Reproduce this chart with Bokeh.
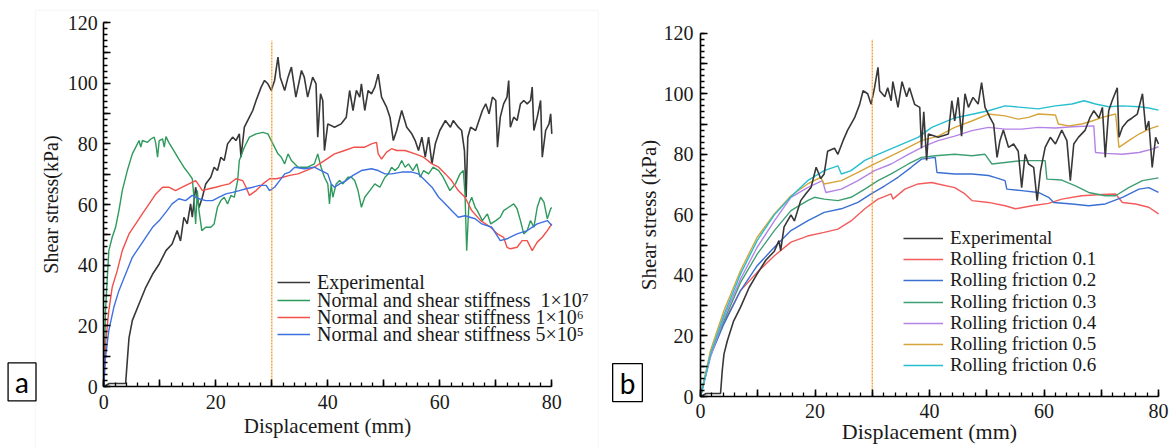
from bokeh.plotting import figure
from bokeh.layouts import row
from bokeh.models import (Range1d, SingleIntervalTicker, Legend, LegendItem,
                          Label, BoxAnnotation)
from bokeh.embed import file_html
from bokeh.resources import INLINE

# ---------------- data: panel a ----------------
exp_a_x = [0, 1.0, 1.5, 3.9, 4.2, 4.5, 5.1, 6.3, 7.5, 8.7,
           9.9, 11.1, 12.2, 13.1, 13.7, 14.3, 14.9, 15.5, 15.8, 16.4,
           17.0, 17.6, 18.2, 19.1, 19.7, 20.3, 20.9, 21.5, 22.1, 23.0,
           23.6, 24.2, 24.5, 25.1, 26.0, 26.6, 27.2, 28.1, 28.7, 29.3,
           29.9, 30.5, 31.1, 31.5, 32.3, 32.9, 33.5, 34.3, 35.3, 35.8,
           36.4, 37.3, 37.9, 38.2, 38.7, 39.1, 39.4, 40.0, 41.2, 42.4,
           43.3, 43.9, 44.5, 45.1, 45.7, 46.0, 46.6, 47.2, 47.8, 48.4,
           49.0, 49.6, 50.5, 51.1, 51.7, 52.3, 53.2, 54.1, 55.0, 55.6,
           56.2, 56.8, 57.4, 58.0, 58.6, 59.2, 60.0, 61.0, 61.9, 62.4,
           63.3, 63.9, 64.4, 64.7, 65.0, 65.5, 66.4, 67.0, 67.6, 68.2,
           68.8, 69.4, 70.0, 70.3, 70.8, 71.4, 72.0, 72.3, 72.6, 73.2,
           73.8, 74.4, 75.0, 75.6, 76.2, 76.5, 76.8, 77.4, 78.0, 78.3,
           78.9, 79.5, 79.8, 80.0]
exp_a_y = [0, 1, 1, 1, 8.6, 16, 21.8, 27.3, 32.7, 37,
           40.4, 44.8, 47, 51.4, 48, 55.8, 53.6, 60.2, 55.8, 65.7,
           59, 62.4, 66.8, 69, 72.3, 71.2, 75.6, 74.5, 80, 82.2,
           81.1, 83.3, 75.6, 85.5, 88.8, 91, 94.3, 98.7, 100.9, 99.8,
           97.6, 100.9, 108.6, 102, 97.6, 102, 105.3, 95.4, 104.2, 102,
           95.4, 102, 99.8, 82.2, 96.5, 94.3, 77.8, 86.6, 85.5, 86.6,
           88.8, 97.6, 91, 97.6, 95.4, 99.8, 91, 97.6, 96.5, 98.7,
           103, 95.4, 92.1, 88.8, 81.1, 84.4, 91, 85.5, 83.3, 81.1,
           77.8, 82.2, 75.6, 82.2, 73.4, 80, 84.4, 87.7, 85.5, 87.7,
           85.5, 84.4, 77.8, 62.4, 82.2, 85.5, 84.4, 87.7, 91, 93.2,
           89.9, 95.4, 94.3, 78.9, 88.8, 93.2, 95.4, 100.9, 85.5, 88.8,
           87.7, 93.2, 94.3, 93.2, 94.3, 98.7, 84.4, 88.8, 94.3, 75.6,
           84.4, 86.6, 89.9, 83.3]

k7_x = [0, 0.3, 0.9, 1.5, 2.1, 2.7, 3.3, 4.2, 5.1, 6.0,
        6.3, 6.6, 6.9, 7.8, 8.4, 9.0, 9.3, 9.6, 9.9, 10.5,
        10.8, 11.1, 11.6, 12.5, 13.4, 14.3, 15.2, 15.8, 16.1, 16.4,
        16.7, 17.0, 17.5, 18.2, 19.1, 19.7, 20.3, 20.9, 21.5, 22.1,
        22.7, 23.3, 23.9, 24.2, 25.1, 26.0, 27.2, 28.4, 29.3, 30.2,
        31.1, 31.7, 32.3, 32.9, 33.5, 34.7, 36.4, 37.6, 38.2, 38.8,
        39.4, 40.0, 40.3, 40.6, 40.9, 41.5, 42.1, 42.7, 43.6, 44.2,
        44.8, 45.4, 46.0, 46.6, 47.5, 48.4, 49.3, 50.2, 50.8, 51.4,
        52.0, 52.6, 53.2, 53.8, 54.4, 55.2, 55.9, 56.5, 57.1, 58.0,
        58.8, 59.8, 60.6, 61.2, 61.8, 62.8, 63.6, 64.2, 64.5, 64.8,
        65.2, 65.7, 66.3, 66.7, 67.6, 68.5, 69.1, 70.0, 70.8, 71.4,
        72.3, 73.2, 73.8, 74.4, 75.0, 75.6, 76.2, 76.8, 77.4, 78.0,
        78.6, 79.2, 79.8, 80.0]
k7_y = [0, 25, 44.8, 49.2, 52.5, 58, 64.6, 71.2, 76.7, 80,
        81.1, 78.9, 81.1, 80.5, 81.6, 82.2, 80, 75.6, 81.1, 81.6,
        78.9, 82.4, 80.5, 77.8, 75, 72.3, 70.1, 68.5, 62.4, 53.6,
        64.6, 58, 51.4, 52.5, 52.5, 53.6, 59.1, 61.3, 62.4, 60.2,
        63, 62.4, 67.9, 74.5, 78.9, 82.2, 83.3, 83.8, 83.3, 80,
        76.7, 75.6, 73.4, 76.7, 74.5, 72.3, 72.3, 73.4, 76.7, 72.3,
        69, 66.8, 60.2, 66.8, 62.4, 66.8, 67.9, 66.8, 69, 69,
        67.9, 64.6, 59.1, 62.4, 64.6, 66.8, 65.7, 69, 70.1, 72.3,
        71.2, 72.3, 74.5, 72.3, 73.4, 71.2, 73.4, 69, 71.2, 70.1,
        72.3, 71.2, 69, 66.8, 64.6, 66.8, 70.1, 71.2, 63.5, 44.8,
        60.2, 62.4, 59.1, 58, 54.7, 56.9, 53.6, 54.7, 55.8, 58,
        59.1, 60.2, 58.6, 54.7, 50.3, 51.4, 54.7, 52.5, 59.1, 62.4,
        60.8, 55.3, 58.6, 59]

k6_x = [0, 0.3, 0.9, 1.5, 2.4, 3.3, 4.5, 5.7, 6.9, 8.1,
        9.3, 10.5, 11.6, 12.8, 14.0, 15.2, 16.4, 17.0, 17.6, 18.8,
        20.0, 21.2, 22.4, 23.6, 24.8, 25.4, 26.0, 27.2, 28.4, 29.6,
        30.8, 32.0, 33.2, 34.7, 37.6, 39.4, 41.2, 43.0, 44.7, 46.6,
        47.8, 48.7, 49.0, 49.6, 50.5, 51.4, 52.3, 53.8, 55.6, 57.1,
        58.6, 59.8, 61.0, 62.1, 63.3, 64.5, 65.7, 67.3, 69.1, 70.3,
        71.4, 72.0, 72.6, 73.8, 74.7, 75.6, 76.5, 77.4, 78.3, 79.2,
        80.0]
k6_y = [0, 14, 25, 32.7, 38.2, 44.8, 50.3, 53.6, 57, 60.2,
        63.5, 65.7, 65.7, 64.6, 65.7, 66.8, 67.9, 66.3, 64.6, 65.2,
        65.7, 66.3, 66.8, 68.5, 67.9, 65.7, 63, 64.6, 66.8, 68.5,
        68.5, 69, 69.6, 70.1, 72.3, 74.5, 76.7, 77.8, 78.9, 78.9,
        80, 80.5, 76.7, 75, 77.3, 78.4, 77.8, 77.8, 76.7, 75.6,
        73.4, 72.3, 70.1, 67.9, 64.6, 62.4, 58, 54.7, 52.5, 50.3,
        49.2, 45.9, 45.4, 45.9, 48.1, 48.1, 44.8, 47.6, 49.2, 51.4,
        53.6]

k5_x = [0, 0.3, 0.9, 1.8, 2.7, 3.9, 5.1, 6.3, 7.5, 8.7,
        9.9, 11.1, 12.2, 13.4, 14.6, 15.8, 17.0, 18.2, 19.4, 20.6,
        21.8, 23.0, 24.2, 25.4, 26.6, 27.8, 29.0, 29.6, 30.5, 31.4,
        32.3, 33.2, 34.1, 35.8, 37.6, 38.8, 40.0, 40.6, 41.2, 42.1,
        43.3, 44.5, 46.0, 47.8, 49.0, 50.2, 51.4, 53.2, 55.0, 56.2,
        57.4, 58.6, 59.8, 61.0, 62.1, 63.3, 64.5, 66.3, 67.5, 69.3,
        70.8, 72.0, 73.8, 75.6, 77.4, 79.2, 80.0]
k5_y = [0, 9.7, 18.5, 26.2, 31.6, 37.1, 42.6, 45.9, 49.2, 52.5,
        54.7, 57.5, 60.2, 61.9, 61.3, 63, 61.9, 61.3, 61.3, 62.4,
        63.5, 64, 64.6, 65.2, 65.7, 66.3, 66.3, 64.6, 65.7, 67.9,
        70.1, 70.7, 72.3, 71.8, 72.3, 71.2, 70.1, 66.8, 65.7, 66.8,
        67.9, 69.6, 71.2, 71.8, 71.2, 70.1, 70.1, 70.7, 70.7, 70.1,
        67.9, 65.7, 62.4, 60.2, 58, 55.8, 56.3, 55.3, 53.6, 52.5,
        48.1, 48.7, 50.3, 51.4, 53.6, 54.7, 53.1]

# ---------------- data: panel b ----------------
exp_b_x = [0, 1.0, 3.5, 3.8, 4.1, 4.7, 5.8, 7.0, 8.5, 9.9,
           11.4, 12.9, 13.7, 14.0, 14.6, 15.8, 16.4, 17.5, 18.4, 19.3,
           20.2, 21.0, 21.6, 22.2, 23.4, 24.0, 24.9, 25.7, 26.9, 27.8,
           28.4, 29.2, 29.8, 30.4, 31.0, 31.3, 32.2, 32.7, 33.3, 33.6,
           34.5, 35.2, 36.0, 36.5, 37.4, 38.3, 38.6, 39.0, 39.5, 39.8,
           41.5, 43.3, 43.9, 44.4, 45.0, 45.6, 46.2, 46.8, 47.6, 48.5,
           49.1, 49.7, 50.6, 51.2, 51.8, 52.3, 52.9, 53.8, 54.7, 55.5,
           56.1, 56.7, 57.3, 58.2, 58.8, 59.4, 60.2, 61.1, 62.0, 63.1,
           64.0, 64.6, 65.2, 66.0, 67.2, 68.0, 68.7, 69.6, 70.2, 70.7,
           71.3, 71.9, 72.8, 73.1, 73.7, 74.6, 75.4, 76.3, 77.2, 77.8,
           78.3, 78.9, 79.5, 80.0]
exp_b_y = [0, 1, 1, 8.6, 14, 18.5, 25, 29.5, 36, 40.5,
           45, 48, 51.5, 48.2, 56, 60, 58, 64.7, 67, 69,
           75.7, 72, 73.5, 81, 82, 80, 84.5, 88, 92, 96.5,
           101, 100, 96.5, 102, 108.7, 101, 99, 102, 97.7, 104,
           95.5, 104, 99, 102, 96.5, 95.5, 82, 94, 78, 86.7,
           85.6, 86.7, 97.7, 91, 98.8, 86, 100, 95.5, 98.8, 96.6,
           103.7, 95.5, 92, 90, 79, 84.5, 88, 82.3, 83.4, 81,
           69, 80, 76.8, 75.7, 64.7, 74.6, 82.3, 85.6, 83.4, 88,
           84.5, 71.3, 83.4, 85.6, 88, 92, 94.4, 92, 95.5, 79,
           94.4, 97.7, 102, 85.6, 88.9, 91, 92, 93.3, 100, 88,
           91, 75.7, 85.6, 83.4]

rf1_x = [0, 1.75, 4.1, 7.0, 9.9, 12.9, 15.8, 18.7, 21.6, 24.0,
         26.3, 28.7, 31.0, 33.3, 33.6, 35.7, 38.0, 40.4, 41.5, 44.4,
         46.2, 47.4, 50.3, 53.2, 55.0, 57.9, 60.8, 63.1, 66.6, 70.2,
         72.5, 73.7, 76.0, 78.3, 80.0]
rf1_y = [0, 14, 24.5, 35, 41, 46.5, 51, 53, 54.2, 55.3,
         58, 62, 65.2, 66.9, 65.2, 68.5, 70.2, 70.7, 70.2, 69,
         66.9, 64.7, 64.1, 63, 62, 63, 63.8, 65.2, 66.3, 66.7,
         66.9, 64.1, 63.6, 62.5, 60.3]
rf2_x = [0, 1.75, 4.1, 7.0, 9.9, 12.9, 15.8, 18.7, 21.6, 24.6,
         27.5, 29.8, 32.2, 34.5, 36.8, 38.6, 41.0, 41.3, 44.4, 47.4,
         50.3, 51.4, 53.2, 53.5, 56.1, 59.0, 60.8, 61.7, 64.9, 67.8,
         70.7, 73.7, 76.6, 78.3, 80.0]
rf2_y = [0, 13.5, 24, 35, 43.2, 49.3, 54.8, 58, 60.8, 62,
         64.1, 66.9, 69.6, 72.4, 75.7, 78.4, 79, 74, 73.5, 73.5,
         73, 72.4, 71.3, 68.5, 68, 67.4, 65.8, 64.1, 63.6, 63,
         63.6, 65.8, 68.5, 69, 67.4]
rf3_x = [0, 1.75, 4.1, 7.0, 9.9, 12.9, 15.8, 18.7, 19.9, 21.6,
         24.0, 26.3, 28.7, 31.0, 33.3, 36.3, 38.6, 41.0, 44.4, 47.4,
         49.7, 50.9, 53.2, 56.1, 60.2, 60.5, 63.1, 65.5, 67.8, 70.7,
         72.5, 74.8, 77.2, 80.0]
rf3_y = [0, 14, 25, 37.7, 47, 54.8, 61.4, 64.7, 65.8, 65.2,
         64.7, 65.8, 68.5, 71.3, 73.5, 76.8, 79, 79.5, 80, 79.5,
         80, 76.8, 77.3, 77.9, 77.9, 71.8, 71.5, 69.6, 67.4, 66.3,
         66.3, 69, 71.3, 72.2]
rf4_x = [0, 1.75, 4.1, 7.0, 9.9, 12.9, 15.8, 18.7, 21.3, 21.9,
         24.6, 27.5, 30.4, 33.3, 36.3, 39.2, 41.5, 44.4, 47.4, 50.3,
         53.2, 56.1, 59.0, 62.0, 64.9, 68.7, 69.0, 70.7, 73.7, 76.6,
         78.9, 80.0]
rf4_y = [0, 13, 26.2, 38.8, 49.3, 58, 65.8, 69, 71.3, 67.4,
         68.5, 71.3, 74.6, 76.8, 80, 82.8, 84.5, 86, 87.8, 88.9,
         88.3, 88.3, 88.9, 88.7, 89.1, 89.4, 80.6, 80.3, 80, 80.6,
         81.7, 82.5]
rf5_x = [0, 1.75, 4.1, 7.0, 9.9, 12.9, 15.8, 18.7, 21.0, 21.6,
         24.6, 27.5, 30.4, 33.3, 36.3, 38.6, 41.5, 44.4, 47.4, 50.3,
         53.2, 55.5, 57.3, 59.0, 62.0, 62.5, 64.3, 66.6, 68.4, 70.2,
         72.5, 73.1, 74.8, 76.6, 78.3, 80.0]
rf5_y = [0, 15.2, 28.4, 41.6, 52.6, 60.3, 66.3, 70.2, 72.4, 70.2,
         71.3, 74, 76.8, 79.5, 82.3, 84.5, 86, 88.9, 91, 93.3,
         92.7, 91.6, 92.2, 93.3, 93, 90, 89.4, 90, 91, 92.2,
         93.3, 82.3, 84.5, 86.7, 88.3, 89.4]
rf6_x = [0, 1.75, 4.1, 7.0, 9.9, 12.9, 15.8, 18.7, 21.6, 24.0,
         24.6, 26.3, 28.7, 31.0, 34.5, 38.0, 40.4, 44.4, 50.3, 53.2,
         56.1, 59.0, 62.0, 64.9, 67.0, 69.0, 71.3, 73.7, 76.6, 78.3,
         80.0]
rf6_y = [0, 14, 27, 40.5, 51.5, 60, 66, 71.3, 74.6, 76.2,
         73.5, 74.6, 78, 80, 82.8, 85.6, 88.9, 92, 94.4, 96,
         95.5, 95, 96, 96.6, 97.7, 96.6, 95.7, 96, 95.7, 95.3,
         94.6]

labels_a = ["Experimental",
            "Normal and shear stiffness  1\u00d710\u2077",
            "Normal and shear stiffness 1\u00d710\u2076",
            "Normal and shear stiffness 5\u00d710\u2075"]
labels_b = ["Experimental", "Rolling friction 0.1", "Rolling friction 0.2",
            "Rolling friction 0.3", "Rolling friction 0.4",
            "Rolling friction 0.5", "Rolling friction 0.6"]
peak_disp = 30
marker_top_a = 114
marker_top_b = 118

SERIF = "Liberation Serif, DejaVu Serif, serif"
H = 447


def base_fig(width, x0_px, x_scale, y0_px, y_scale, tick_px, xlab_px,
             ylab_px, ylabel, x_std, xl_std, y_std, yl_std):
    # frame covers the whole canvas; axes sit at x=0 / y=0
    xr = Range1d(-x0_px / x_scale, (width - x0_px) / x_scale)
    yr = Range1d(-(H - y0_px) / y_scale, y0_px / y_scale)
    p = figure(width=width, height=H, x_range=xr, y_range=yr,
               output_backend="svg", toolbar_location=None,
               min_border=0, min_border_left=0, min_border_right=0,
               min_border_top=0, min_border_bottom=0)
    p.grid.visible = False
    p.outline_line_color = None
    p.background_fill_color = "white"
    p.border_fill_color = "white"
    p.xaxis.fixed_location = 0
    p.yaxis.fixed_location = 0
    p.xaxis.bounds = (0, 80)
    p.yaxis.bounds = (0, 120)
    p.xaxis.ticker = SingleIntervalTicker(interval=10, num_minor_ticks=5)
    p.yaxis.ticker = SingleIntervalTicker(interval=10, num_minor_ticks=5)
    p.xaxis.major_label_overrides = {10: "", 30: "", 50: "", 70: ""}
    p.yaxis.major_label_overrides = {10: "", 30: "", 50: "", 70: "",
                                     90: "", 110: ""}
    p.xaxis.axis_label = "Displacement (mm)"
    p.yaxis.axis_label = ylabel
    for ax in (p.xaxis[0], p.yaxis[0]):
        ax.axis_line_color = "black"
        ax.axis_line_width = 1.6
        ax.major_tick_line_color = "black"
        ax.major_tick_line_width = 1.6
        ax.minor_tick_line_color = "black"
        ax.minor_tick_line_width = 1.3
        ax.major_tick_in = 7
        ax.major_tick_out = 0
        ax.minor_tick_in = 4
        ax.minor_tick_out = 0
        ax.major_label_text_font = SERIF
        ax.major_label_text_font_size = tick_px
        ax.major_label_text_color = "#1a1a1a"
        ax.axis_label_text_font = SERIF
        ax.axis_label_text_font_style = "normal"
        ax.axis_label_text_color = "#1a1a1a"
    p.xaxis.axis_label_text_font_size = xlab_px
    p.yaxis.axis_label_text_font_size = ylab_px
    p.xaxis.major_label_standoff = x_std
    p.xaxis.axis_label_standoff = xl_std
    p.yaxis.major_label_standoff = y_std
    p.yaxis.axis_label_standoff = yl_std
    return p


def add_legend_rows(p, items, x_px, rows_px, glyph_w, font_px, shift):
    # one single-item legend per row so that the row pitch is exact
    for (lab, r), y_mid in zip(items, rows_px):
        c = H - y_mid
        lg = Legend(items=[LegendItem(label=lab, renderers=[r])],
                    location=(x_px, c - shift), orientation="vertical",
                    label_text_font=SERIF, label_text_font_size=font_px,
                    label_text_color="#1a1a1a",
                    glyph_width=glyph_w, glyph_height=30, label_height=30,
                    label_standoff=7, spacing=0, padding=0, margin=0,
                    border_line_color=None, background_fill_alpha=0)
        p.add_layout(lg)


def add_box_label(p, text, x, y):
    p.add_layout(Label(x=x, y=y, text=text, text_font="Lato",
                       text_font_size="28px", text_align="center",
                       text_baseline="middle", text_color="black",
                       border_line_color="black", border_line_width=1.3,
                       background_fill_color="white", padding=(7, 2)))


# ---------------- panel a ----------------
pa = base_fig(600, 103.3, 5.6, 386, 3.033, "20px", "21px", "20px",
              "Shear stress(kPa)", 8, 2, 6, 3)
pa.add_layout(BoxAnnotation(left=-12.2, right=88.3, top=124, bottom=-25,
                            fill_alpha=0, line_color="#e6e6e6",
                            line_width=1.2))
ra_exp = pa.line(exp_a_x, exp_a_y, line_color="#383838", line_width=1.6)
ra_7 = pa.line(k7_x, k7_y, line_color="#2e9a5c", line_width=1.4)
ra_6 = pa.line(k6_x, k6_y, line_color="#f2504a", line_width=1.4)
ra_5 = pa.line(k5_x, k5_y, line_color="#3d70e0", line_width=1.4)
pa.segment(x0=[peak_disp], y0=[0], x1=[peak_disp], y1=[marker_top_a],
           line_color="#f39a2b", line_width=1.3, line_dash="2 1")
add_legend_rows(pa, list(zip(labels_a, [ra_exp, ra_7, ra_6, ra_5])),
                277, [283, 301, 318, 335], 33, "20px", 14)
add_box_label(pa, "a", -14.6, 1.5)

# ---------------- panel b ----------------
pb = base_fig(575, 100, 5.725, 396, 3.0275, "20px", "22px", "21px",
              "Shear stress (kPa)", 7, -2, 7, 0)
cols_b = ["#f25c5c", "#3b6fd2", "#3f9f74", "#b583e6", "#d6a53a", "#27bfd0"]
rb = []
for xs, ys, c in zip([rf1_x, rf2_x, rf3_x, rf4_x, rf5_x, rf6_x],
                     [rf1_y, rf2_y, rf3_y, rf4_y, rf5_y, rf6_y], cols_b):
    rb.append(pb.line(xs, ys, line_color=c, line_width=1.4))
rb_exp = pb.line(exp_b_x, exp_b_y, line_color="#383838", line_width=1.6)
pb.segment(x0=[peak_disp], y0=[0], x1=[peak_disp], y1=[marker_top_b],
           line_color="#f39a2b", line_width=1.3, line_dash="2 1")
add_legend_rows(pb, list(zip(labels_b, [rb_exp] + rb)), 303,
                [238, 259.2, 280.4, 301.6, 322.8, 344, 365.2], 40, "19px", 15)
add_box_label(pb, "b", -12.75, 4.6)

layout = row(pa, pb)
open("out.html", "w").write(file_html(layout, INLINE))
